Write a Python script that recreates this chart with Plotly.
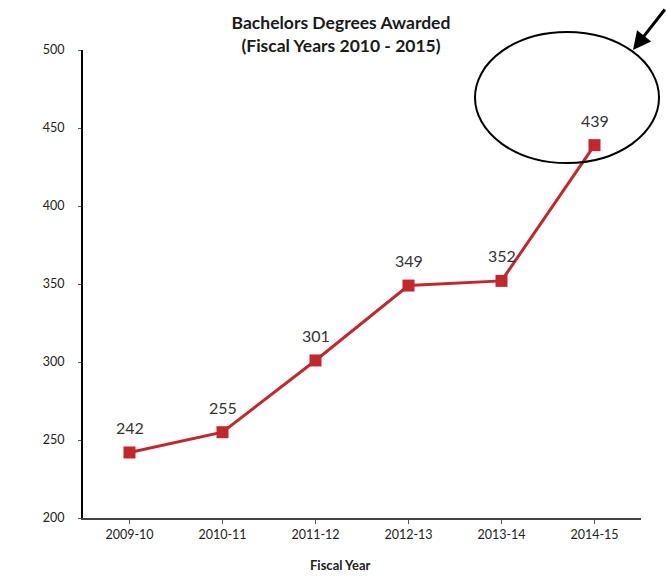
import plotly.graph_objects as go

# Bachelors degrees awarded per fiscal year
years = ["2009-10", "2010-11", "2011-12", "2012-13", "2013-14", "2014-15"]
degrees = [242, 255, 301, 349, 352, 439]
y_ticks = [200, 250, 300, 350, 400, 450, 500]

LINE_RED = "#C1272D"
FONT = "Lato"

W, H = 666, 576
M_L, M_R, M_T, M_B = 83, 25, 50, 58
PW = W - M_L - M_R
PH = H - M_T - M_B


def px_x(px):
    return (px - M_L) / PW


def px_y(py):
    return (H - M_B - py) / PH


fig = go.Figure()
fig.add_trace(go.Scatter(
    x=list(range(len(years))),
    y=degrees,
    mode="lines+markers",
    line=dict(color=LINE_RED, width=3),
    marker=dict(symbol="square", size=12, color=LINE_RED),
    hoverinfo="skip",
))

# value labels above each point
for i, v in enumerate(degrees):
    fig.add_annotation(
        x=i, y=v, text=str(v), showarrow=False, yshift=25,
        font=dict(family=FONT, size=16, color="#333333"),
    )

# highlight ring around the latest year and a pointer arrow
fig.add_shape(
    type="circle", xref="paper", yref="paper",
    x0=px_x(475), x1=px_x(659), y0=px_y(163), y1=px_y(32),
    line=dict(color="black", width=2),
)
fig.add_annotation(
    xref="paper", yref="paper", x=px_x(633), y=px_y(50),
    ax=36, ay=-42, showarrow=True, arrowhead=2, arrowsize=1.2,
    arrowwidth=3, arrowcolor="black", text="",
)

fig.add_annotation(
    xref="paper", yref="paper", x=px_x(340), y=px_y(565),
    text="<b>Fiscal Year</b>", showarrow=False, yanchor="middle",
    font=dict(family=FONT, size=13, color="#222222"),
)

fig.update_layout(
    width=W, height=H,
    margin=dict(l=M_L, r=M_R, t=M_T, b=M_B),
    plot_bgcolor="white", paper_bgcolor="white",
    showlegend=False,
    title=dict(
        text="<b>Bachelors Degrees Awarded<br>(Fiscal Years 2010 - 2015)</b>",
        x=341 / W, xanchor="center", xref="container",
        y=1 - 29 / H, yanchor="middle", yref="container",
        font=dict(family=FONT, size=17.5, color="#1a1a1a"),
    ),
    xaxis=dict(
        range=[-0.5, len(years) - 0.5],
        tickmode="array", tickvals=list(range(len(years))), ticktext=years,
        tickson="boundaries", ticks="outside", ticklen=4, tickcolor="#555555",
        showline=True, linecolor="#444444", linewidth=2,
        showgrid=False, zeroline=False,
        tickfont=dict(family=FONT, size=12.5, color="#222222"),
    ),
    yaxis=dict(
        range=[200, 500],
        tickmode="array", tickvals=y_ticks,
        ticks="outside", ticklen=3, tickcolor="#555555",
        showline=True, linecolor="black", linewidth=2,
        showgrid=False, zeroline=False,
        ticklabelstandoff=11,
        tickfont=dict(family=FONT, size=12.5, color="#222222"),
    ),
)

fig.write_html("out.html")
